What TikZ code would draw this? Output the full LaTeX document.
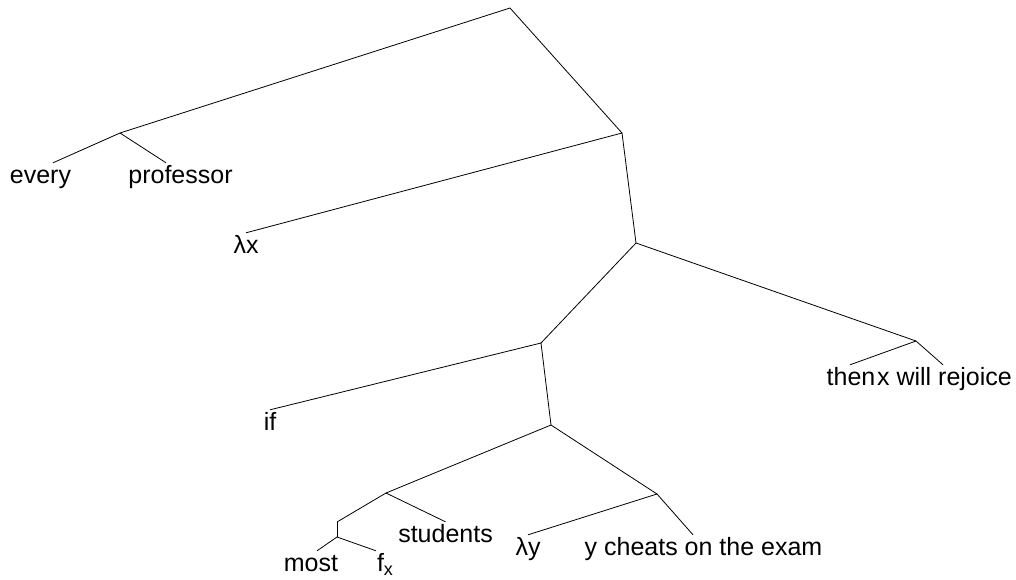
\documentclass[tikz,border=0pt]{standalone}
\usepackage{fontspec}
\setmainfont{Liberation Sans}
\begin{document}
\begin{tikzpicture}[x=1pt,y=-1pt,
  leaf/.style={anchor=base,inner xsep=0pt,inner ysep=2pt,text height=18pt,text depth=5pt,font=\fontsize{25}{29}\selectfont},
  edge/.style={line width=0.8pt,black}]
\useasboundingbox (0,0) rectangle (1016,579);
% internal points
\coordinate (root) at (510,8);
\coordinate (n1) at (120,133);
\coordinate (n2) at (622,133);
\coordinate (n3) at (636,243);
\coordinate (n4) at (541,343);
\coordinate (n5) at (916,341);
\coordinate (n6) at (551,425);
\coordinate (n7) at (386,493);
\coordinate (n8) at (657,494);
\coordinate (n9) at (337,522);
\coordinate (n10) at (337,537);
% leaves
\node[leaf] (every) at (40.5,183) {every};
\node[leaf] (prof) at (180.5,183) {professor};
\node[leaf] (lx) at (246,253) {λx};
\node[leaf] (then) at (851,385) {then};
\node[leaf] (xwill) at (944.5,385) {x will rejoice};
\node[leaf] (if) at (270,430) {if};
\node[leaf] (students) at (445.5,542) {students};
\node[leaf] (ly) at (528,555) {λy};
\node[leaf] (ycheats) at (703.5,555) {y cheats on the exam};
\node[leaf] (most) at (311,571) {most};
\node[leaf] (fx) at (385,571) {f\raisebox{-4.5pt}{\fontsize{18}{20}\selectfont x}};
% edges
\draw[edge] (n1) -- (root) -- (n2);
\draw[edge] ([xshift=12.5pt]every.north) -- (n1) -- ([xshift=-14.5pt]prof.north);
\draw[edge] (lx.north) -- (n2) -- (n3);
\draw[edge] (n4) -- (n3) -- (n5);
\draw[edge] ([xshift=-1pt]then.north) -- (n5) -- ([xshift=-1.5pt]xwill.north);
\draw[edge] (if.north) -- (n4) -- (n6);
\draw[edge] (n7) -- (n6) -- (n8);
\draw[edge] (n9) -- (n7) -- (students.north);
\draw[edge] (n9) -- (n10);
\draw[edge] ([xshift=6pt]most.north) -- (n10) -- ([xshift=-9pt]fx.north);
\draw[edge] (ly.north) -- (n8) -- ([xshift=-10.5pt]ycheats.north);
\end{tikzpicture}
\end{document}
